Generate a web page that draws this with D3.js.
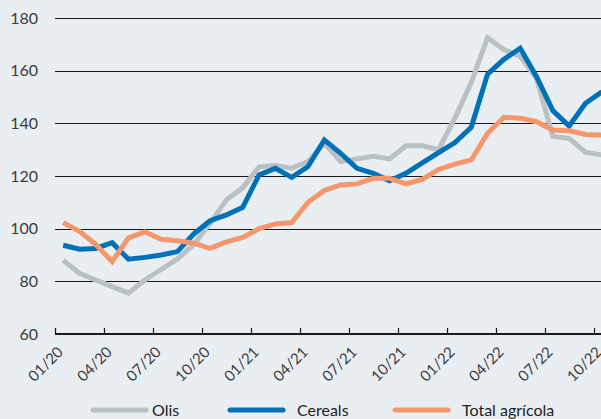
<!DOCTYPE html>
<html>
<head>
<meta charset="utf-8">
<script src="https://cdn.jsdelivr.net/npm/d3@7"></script>
<style>
  body { margin: 0; background: #e9eef3; }
  svg { display: block; font-family: Lato, "Open Sans", sans-serif; }
</style>
</head>
<body>
<div id="chart"></div>
<script>
// monthly values, 01/20 .. 10/22
const months = d3.range(34);
const olis = [88, 83, 80.5, 78, 75.5, 80.5, 84.5, 88.5, 94, 102, 111, 115.5, 123.5, 124, 123, 125.5, 132.5,
  125.5, 126.5, 127.5, 126.5, 131.5, 131.5, 130, 142, 155.5, 172.5, 168, 165.5, 157, 135, 134.3, 129, 128];
const cereals = [93.7, 92.2, 92.5, 94.7, 88.4, 89.1, 90, 91.3, 98, 103, 105.2, 108.1, 120.4, 122.9, 119.5, 123.6, 133.7,
  128.6, 122.9, 121, 118.2, 121, 125, 128.9, 132.7, 138.5, 158.7, 164.3, 168.5, 157.7, 144.8, 139, 147.6, 152];
const totalAgricola = [102.3, 99, 94, 87.5, 96.5, 98.8, 96, 95.4, 94.5, 92.5, 95, 96.7, 100, 101.8, 102.3, 110, 114.5,
  116.6, 117, 119.1, 119.1, 117, 118.7, 122.5, 124.5, 126.1, 136.2, 142.3, 141.9, 140.6, 137.5, 137.2, 135.8, 135.6];
const yTicks = [60, 80, 100, 120, 140, 160, 180];
const xTickLabels = ["01/20", "04/20", "07/20", "10/20", "01/21", "04/21", "07/21", "10/21", "01/22", "04/22", "07/22", "10/22"];

const series = [
  {name: "Olis", values: olis, color: "#b9c1c4"},
  {name: "Cereals", values: cereals, color: "#0071b9"},
  {name: "Total agrícola", values: totalAgricola, color: "#f5976b"}
];

const width = 601, height = 419;

const svg = d3.select("#chart").append("svg")
    .attr("width", width)
    .attr("height", height);

svg.append("rect")
    .attr("width", width)
    .attr("height", height)
    .attr("fill", "#e9eef3");

// month index -> x, ticks sit on month boundaries
const x = d3.scaleLinear().domain([-0.5, 33.5]).range([55, 610]);
const y = d3.scaleLinear().domain([60, 180]).range([334, 18]);

// gridlines
svg.append("g")
  .selectAll("line")
  .data(yTicks.slice(1))
  .join("line")
    .attr("x1", 55)
    .attr("x2", width)
    .attr("y1", d => Math.round(y(d)) + 0.5)
    .attr("y2", d => Math.round(y(d)) + 0.5)
    .attr("stroke", "#1a1a1a")
    .attr("stroke-width", 1);

// y labels
svg.append("g")
  .selectAll("text")
  .data(yTicks)
  .join("text")
    .attr("x", 38)
    .attr("y", d => y(d))
    .attr("dy", "0.36em")
    .attr("text-anchor", "end")
    .attr("fill", "#3c3c3c")
    .style("font-size", "16px")
    .text(d => d);

// x axis
const xAxis = svg.append("g");
xAxis.append("line")
    .attr("x1", 55).attr("x2", width)
    .attr("y1", 334).attr("y2", 334)
    .attr("stroke", "#1a1a1a")
    .attr("stroke-width", 2);

const tickPos = xTickLabels.map((d, i) => ({label: d, pos: i * 3 - 0.5}));

xAxis.selectAll(".tick")
  .data(tickPos)
  .join("line")
    .attr("class", "tick")
    .attr("x1", d => Math.round(x(d.pos)) + 0.5)
    .attr("x2", d => Math.round(x(d.pos)) + 0.5)
    .attr("y1", 334)
    .attr("y2", 328)
    .attr("stroke", "#1a1a1a")
    .attr("stroke-width", 1.2);

xAxis.selectAll(".xlabel")
  .data(tickPos)
  .join("text")
    .attr("class", "xlabel")
    .attr("transform", d => `translate(${x(d.pos) + 9},${353}) rotate(-45)`)
    .attr("text-anchor", "end")
    .attr("fill", "#3c3c3c")
    .style("font-size", "15px")
    .text(d => d.label);

// lines
const line = d3.line()
    .x((d, i) => x(i))
    .y(d => y(d));

svg.append("g")
  .selectAll("path")
  .data(series)
  .join("path")
    .attr("d", d => line(d.values))
    .attr("fill", "none")
    .attr("stroke", d => d.color)
    .attr("stroke-width", 5)
    .attr("stroke-linejoin", "miter")
    .attr("stroke-miterlimit", 2);

// legend
const legendPos = [{lx: 93, tx: 152}, {lx: 230, tx: 297}, {lx: 395, tx: 462}];
const legend = svg.append("g")
  .selectAll("g")
  .data(series)
  .join("g");

legend.append("line")
    .attr("x1", (d, i) => legendPos[i].lx)
    .attr("x2", (d, i) => legendPos[i].lx + 53)
    .attr("y1", 410)
    .attr("y2", 410)
    .attr("stroke", d => d.color)
    .attr("stroke-width", 5)
    .attr("stroke-linecap", "round");

legend.append("text")
    .attr("x", (d, i) => legendPos[i].tx)
    .attr("y", 416)
    .attr("fill", "#222")
    .style("font-size", "16px")
    .text(d => d.name);
</script>
</body>
</html>
